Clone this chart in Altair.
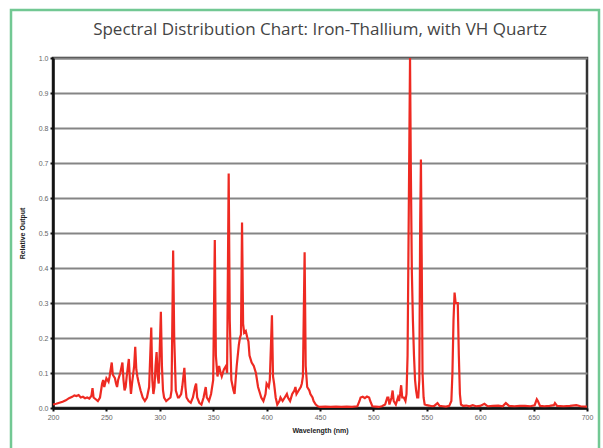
import altair as alt
import pandas as pd

# Spectral output of an iron-thallium lamp (relative to the 535 nm line)
wavelength_nm = [
    200, 203, 206, 209, 212, 215, 218, 220, 222, 224, 226, 228, 230, 232, 234, 236, 237, 238, 240, 242,
    244, 246, 247, 248, 250, 252, 253, 255, 256, 257, 258, 259, 260, 261, 263, 265, 266, 267, 268, 269,
    271, 272, 273, 274, 276, 277, 278, 279, 280, 282, 284, 286, 288, 290, 292, 293, 294, 295, 296, 297,
    298, 299, 301, 302, 303, 304, 306, 308, 310, 311, 312.5, 313.5, 315, 317, 318, 320, 321, 323, 324, 325,
    327, 329, 331, 333, 334, 335, 337, 339, 341, 343, 344, 346, 348, 350, 351.5, 352.5, 354, 355.5, 357, 358,
    360, 362, 363, 364.5, 365.5, 367, 369, 370, 371, 372, 374, 375, 376, 377, 378, 379, 380.5, 382, 383, 384,
    386, 388, 390, 392, 393, 395, 397, 399, 400, 402, 403, 405, 406, 407, 408.5, 410, 412, 413, 415, 417,
    419, 420, 422, 424, 426, 427, 428, 430, 432, 433, 434, 435.6, 436.6, 438, 440, 441, 443, 444, 446, 448,
    450, 455, 460, 465, 470, 475, 480, 485, 487, 488, 490, 492, 494, 496, 497, 499, 502, 505, 508, 511,
    513, 514, 515, 517, 518, 519, 521, 523, 524, 525, 526, 527, 528.5, 530, 531, 532, 533.5, 534.3, 535, 536,
    537, 538, 539, 540, 541, 542, 543, 543.8, 544.5, 545.3, 546, 547, 548, 550, 552, 555, 557, 560, 562, 565,
    568, 571, 573, 574, 575, 576, 577, 578, 579, 580, 581, 582, 584, 587, 590, 593, 596, 600, 604, 607,
    612, 617, 621, 624, 627, 632, 637, 642, 647, 651, 653, 654, 656, 660, 665, 669, 670, 672, 678, 684,
    690, 694, 700,
]
relative_output = [
    0.010, 0.012, 0.015, 0.018, 0.022, 0.028, 0.032, 0.036, 0.034, 0.037, 0.030, 0.032, 0.028, 0.030, 0.027, 0.035, 0.057, 0.030, 0.025, 0.020,
    0.030, 0.070, 0.080, 0.060, 0.085, 0.075, 0.090, 0.130, 0.095, 0.090, 0.085, 0.070, 0.060, 0.080, 0.100, 0.130, 0.080, 0.050, 0.060, 0.090,
    0.140, 0.080, 0.040, 0.070, 0.120, 0.175, 0.110, 0.090, 0.075, 0.050, 0.030, 0.020, 0.030, 0.060, 0.230, 0.080, 0.040, 0.060, 0.120, 0.160,
    0.090, 0.070, 0.275, 0.120, 0.050, 0.030, 0.020, 0.025, 0.030, 0.050, 0.450, 0.200, 0.050, 0.030, 0.030, 0.040, 0.060, 0.115, 0.060, 0.030,
    0.020, 0.015, 0.030, 0.060, 0.070, 0.030, 0.015, 0.010, 0.030, 0.060, 0.030, 0.020, 0.040, 0.080, 0.480, 0.150, 0.090, 0.120, 0.100, 0.090,
    0.110, 0.120, 0.100, 0.670, 0.250, 0.080, 0.050, 0.040, 0.080, 0.120, 0.180, 0.200, 0.210, 0.530, 0.240, 0.215, 0.220, 0.200, 0.190, 0.150,
    0.130, 0.120, 0.100, 0.060, 0.050, 0.030, 0.020, 0.040, 0.070, 0.060, 0.080, 0.265, 0.090, 0.070, 0.030, 0.010, 0.020, 0.030, 0.020, 0.030,
    0.040, 0.030, 0.020, 0.040, 0.050, 0.060, 0.040, 0.050, 0.060, 0.070, 0.090, 0.445, 0.120, 0.060, 0.050, 0.040, 0.030, 0.020, 0.010, 0.005,
    0.003, 0.004, 0.003, 0.004, 0.003, 0.004, 0.003, 0.005, 0.020, 0.030, 0.032, 0.028, 0.033, 0.030, 0.020, 0.005, 0.004, 0.003, 0.005, 0.010,
    0.030, 0.030, 0.010, 0.030, 0.050, 0.020, 0.010, 0.030, 0.020, 0.040, 0.065, 0.030, 0.030, 0.020, 0.040, 0.150, 0.700, 1.000, 0.700, 0.390,
    0.250, 0.150, 0.080, 0.050, 0.030, 0.030, 0.080, 0.530, 0.710, 0.400, 0.100, 0.030, 0.010, 0.008, 0.007, 0.005, 0.006, 0.014, 0.006, 0.005,
    0.004, 0.006, 0.020, 0.100, 0.250, 0.330, 0.300, 0.300, 0.300, 0.150, 0.040, 0.010, 0.006, 0.007, 0.005, 0.008, 0.005, 0.006, 0.012, 0.005,
    0.006, 0.007, 0.005, 0.014, 0.006, 0.005, 0.006, 0.006, 0.005, 0.008, 0.025, 0.020, 0.006, 0.005, 0.006, 0.008, 0.014, 0.006, 0.005, 0.006,
    0.008, 0.005, 0.004,
]
x_ticks = [200, 250, 300, 350, 400, 450, 500, 550, 600, 650, 700]
y_ticks = [0.0, 0.1, 0.2, 0.3, 0.4, 0.5, 0.6, 0.7, 0.8, 0.9, 1.0]

spectrum = pd.DataFrame({"wavelength": wavelength_nm, "output": relative_output})

# Thin green frame around the whole figure
frame = alt.Chart(alt.Data(values=[{}])).mark_rect(
    fill="white", fillOpacity=0, stroke="#72c893", strokeWidth=2.5
).encode(
    x=alt.value(-42), x2=alt.value(546), y=alt.value(-48), y2=alt.value(420)
)

line = alt.Chart(spectrum).mark_line(
    color="#ee2a22", strokeWidth=2.2, interpolate="linear"
).encode(
    x=alt.X(
        "wavelength:Q",
        scale=alt.Scale(domain=[200, 700], nice=False, zero=False),
        axis=alt.Axis(values=x_ticks, format="d", title="Wavelength (nm)", grid=False,
                      labelFlush=False),
    ),
    y=alt.Y(
        "output:Q",
        scale=alt.Scale(domain=[0, 1], nice=False),
        axis=alt.Axis(values=y_ticks, format=".1f", title="Relative Output", grid=True,
                      labelFlush=False),
    ),
)

# The title sits above the group bounds, which include the frame, so it is
# pulled back down inside the frame with a negative offset.
chart = alt.layer(frame, line).properties(
    width=534,
    height=350,
    autosize=alt.AutoSizeParams(type="none"),
    padding={"left": 53, "top": 58, "right": 16, "bottom": 40},
    title=alt.TitleParams(
        "Spectral Distribution Chart: Iron-Thallium, with VH Quartz",
        font="Open Sans",
        fontSize=17,
        fontWeight="normal",
        color="#444444",
        anchor="middle",
        frame="group",
        offset=-30,
    ),
).configure_view(
    stroke="#333333", strokeWidth=2.5
).configure_axis(
    labelFont="Liberation Sans",
    labelFontSize=7,
    labelColor="#666666",
    titleFont="Liberation Sans",
    titleFontSize=7,
    titleFontWeight="bold",
    titleColor="#222222",
    domainColor="#111111",
    domainWidth=2.5,
    tickColor="#111111",
    tickWidth=2,
    tickSize=3,
    labelPadding=2,
    gridColor="#858585",
    gridWidth=2,
).configure_axisY(
    titlePadding=13,
).configure_axisX(
    titlePadding=6,
)

chart.save("out.html", embed_options={"renderer": "svg", "actions": False})
